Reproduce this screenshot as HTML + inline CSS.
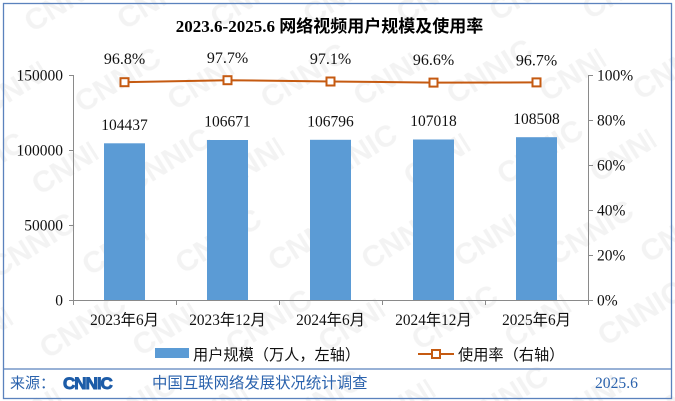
<!DOCTYPE html>
<html>
<head>
<meta charset="utf-8">
<style>
  html,body{margin:0;padding:0;background:#fff;}
  svg{display:block;}
  .s{font-family:"Liberation Serif","Noto Sans CJK SC",serif;}
  .c{font-family:"Liberation Serif","Noto Sans CJK SC",sans-serif;}
  .k{font-family:"Noto Sans CJK SC","WenQuanYi Zen Hei",sans-serif;}
</style>
</head>
<body>
<svg width="675" height="401" viewBox="0 0 675 401" xmlns="http://www.w3.org/2000/svg">
  <defs>
    <pattern id="wm" width="160" height="95" patternUnits="userSpaceOnUse" patternTransform="rotate(-32)">
      <text x="10" y="45" font-family="Liberation Sans, sans-serif" font-weight="bold" font-size="30" fill="#f3f3f3">CNNIC</text>
      <text x="90" y="92" font-family="Liberation Sans, sans-serif" font-weight="bold" font-size="30" fill="#f3f3f3">CNNIC</text>
    </pattern>
  </defs>
  <rect x="0" y="0" width="675" height="401" fill="#fff"/>
  <rect x="0" y="0" width="675" height="401" fill="url(#wm)"/>

  <!-- frame -->
  <rect x="3.5" y="3.5" width="668" height="395" fill="none" stroke="#5b82bd" stroke-width="1.3"/>
  <line x1="3.5" y1="369" x2="671.5" y2="369" stroke="#5b82bd" stroke-width="1.3"/>

  <!-- title -->
  <text x="329.5" y="32" text-anchor="middle" class="s" font-size="17" font-weight="bold" fill="#000">2023.6-2025.6 网络视频用户规模及使用率</text>

  <!-- axes -->
  <g stroke="#8a8a8a" stroke-width="1" fill="none">
    <line x1="73.5" y1="75" x2="73.5" y2="300"/>
    <line x1="588.5" y1="75" x2="588.5" y2="300"/>
    <line x1="73" y1="300.5" x2="589" y2="300.5"/>
    <line x1="69" y1="75.5" x2="73.5" y2="75.5"/>
    <line x1="69" y1="150.5" x2="73.5" y2="150.5"/>
    <line x1="69" y1="225.5" x2="73.5" y2="225.5"/>
    <line x1="69" y1="300.5" x2="73.5" y2="300.5"/>
    <line x1="588.5" y1="75.5" x2="593" y2="75.5"/>
    <line x1="588.5" y1="120.5" x2="593" y2="120.5"/>
    <line x1="588.5" y1="165.5" x2="593" y2="165.5"/>
    <line x1="588.5" y1="210.5" x2="593" y2="210.5"/>
    <line x1="588.5" y1="255.5" x2="593" y2="255.5"/>
    <line x1="588.5" y1="300.5" x2="593" y2="300.5"/>
    <line x1="73.5" y1="300" x2="73.5" y2="305"/>
    <line x1="176.5" y1="300" x2="176.5" y2="305"/>
    <line x1="279.5" y1="300" x2="279.5" y2="305"/>
    <line x1="382.5" y1="300" x2="382.5" y2="305"/>
    <line x1="485.5" y1="300" x2="485.5" y2="305"/>
    <line x1="588.5" y1="300" x2="588.5" y2="305"/>
  </g>

  <!-- left axis labels -->
  <g class="s" font-size="15.5" fill="#111" text-anchor="end">
    <text x="63" y="80.5">150000</text>
    <text x="63" y="155.5">100000</text>
    <text x="63" y="230.5">50000</text>
    <text x="63" y="305.5">0</text>
  </g>
  <!-- right axis labels -->
  <g class="s" font-size="15.5" fill="#111" text-anchor="start">
    <text x="597" y="80.5">100%</text>
    <text x="597" y="125.5">80%</text>
    <text x="597" y="170.5">60%</text>
    <text x="597" y="215.5">40%</text>
    <text x="597" y="260.5">20%</text>
    <text x="597" y="305.5">0%</text>
  </g>

  <!-- bars -->
  <g fill="#5b9bd5">
    <rect x="104" y="143.3" width="41" height="156.7"/>
    <rect x="207" y="140.0" width="41" height="160.0"/>
    <rect x="310" y="139.8" width="41" height="160.2"/>
    <rect x="413" y="139.5" width="41" height="160.5"/>
    <rect x="516" y="137.2" width="41" height="162.8"/>
  </g>

  <!-- bar labels -->
  <g class="s" font-size="15.5" fill="#111" text-anchor="middle">
    <text x="124.5" y="130">104437</text>
    <text x="227.5" y="126.7">106671</text>
    <text x="330.5" y="126.5">106796</text>
    <text x="433.5" y="126.2">107018</text>
    <text x="536.5" y="124">108508</text>
  </g>

  <!-- line -->
  <polyline points="124.5,82.2 227.5,80.2 330.5,81.5 433.5,82.6 536.5,82.4" fill="none" stroke="#c55a11" stroke-width="2"/>
  <g fill="#fff" stroke="#c55a11" stroke-width="2">
    <rect x="120.5" y="78.2" width="8" height="8"/>
    <rect x="223.5" y="76.2" width="8" height="8"/>
    <rect x="326.5" y="77.5" width="8" height="8"/>
    <rect x="429.5" y="78.6" width="8" height="8"/>
    <rect x="532.5" y="78.4" width="8" height="8"/>
  </g>

  <!-- percent labels -->
  <g class="s" font-size="16" fill="#111" text-anchor="middle">
    <text x="124.5" y="64">96.8%</text>
    <text x="227.5" y="63">97.7%</text>
    <text x="330.5" y="64">97.1%</text>
    <text x="433.5" y="65">96.6%</text>
    <text x="536.5" y="65.5">96.7%</text>
  </g>

  <!-- category labels -->
  <g class="c" font-size="15.3" fill="#111" text-anchor="middle">
    <text x="124.5" y="325">2023年6月</text>
    <text x="227.5" y="325">2023年12月</text>
    <text x="330.5" y="325">2024年6月</text>
    <text x="433.5" y="325">2024年12月</text>
    <text x="536.5" y="325">2025年6月</text>
  </g>

  <!-- legend -->
  <rect x="155" y="348" width="34" height="10" fill="#5b9bd5"/>
  <text x="193" y="360" class="k" font-size="15.2" fill="#111">用户规模（万人，左轴）</text>
  <line x1="418" y1="354" x2="454" y2="354" stroke="#c55a11" stroke-width="2"/>
  <rect x="432" y="350" width="8" height="8" fill="#fff" stroke="#c55a11" stroke-width="2"/>
  <text x="458" y="360" class="k" font-size="15.2" fill="#111">使用率（右轴）</text>

  <!-- footer -->
  <text x="10" y="388" class="k" font-size="15" fill="#2a62ad">来源：</text>
  <text x="63" y="389" font-family="Liberation Sans, sans-serif" font-weight="bold" font-size="17" letter-spacing="-1" fill="#1d5ca8" stroke="#1d5ca8" stroke-width="0.9">CNNIC</text>
  <text x="152" y="388" class="k" font-size="15.4" fill="#2a62ad">中国互联网络发展状况统计调查</text>
  <text x="595" y="388" class="s" font-size="15.6" fill="#2a62ad">2025.6</text>
</svg>
</body>
</html>
